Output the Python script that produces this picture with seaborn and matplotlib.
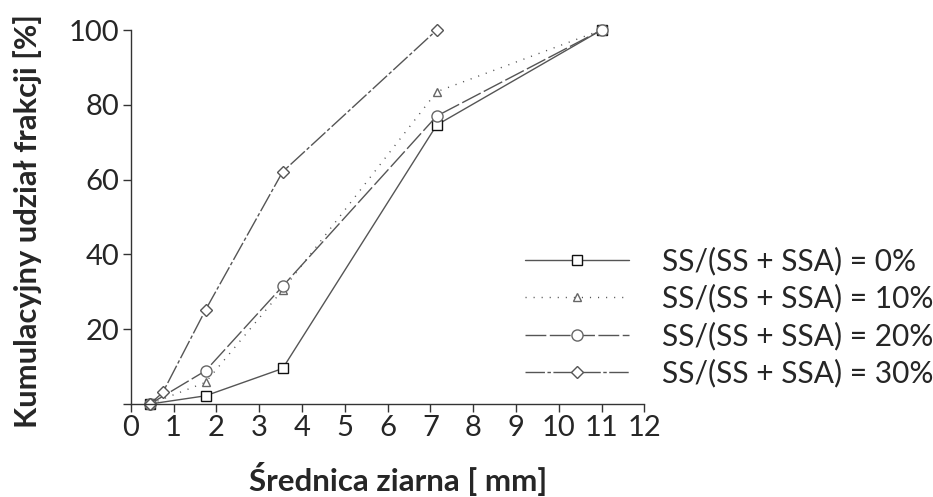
import matplotlib
matplotlib.use("Agg")
import matplotlib.pyplot as plt
import seaborn as sns
import pandas as pd
from matplotlib.lines import Line2D

# Sieve sizes [mm] and cumulative passing [%]
sizes = [0.45, 1.75, 3.55, 7.15, 11.0]
sizes_30 = [0.45, 0.75, 1.75, 3.55, 7.15]
pass_0 = [0.0, 2.2, 9.5, 74.6, 100.0]
pass_10 = [0.0, 5.8, 30.5, 83.5, 100.0]
pass_20 = [0.0, 8.9, 31.5, 77.0, 100.0]
pass_30 = [0.0, 3.1, 25.2, 62.1, 100.0]

labels = ["SS/(SS + SSA) = 0%", "SS/(SS + SSA) = 10%",
          "SS/(SS + SSA) = 20%", "SS/(SS + SSA) = 30%"]
x_ticks = list(range(0, 13))
y_ticks = [0, 20, 40, 60, 80, 100]
y_ticklabels = ["", "20", "40", "60", "80", "100"]

sns.set_style("ticks")
FONT = "Lato"
plt.rcParams["font.family"] = [FONT, "DejaVu Sans"]

fig = plt.figure(figsize=(9.33, 4.97), dpi=100)
ax = fig.add_axes([0.1401, 0.1871, 0.5505, 0.7525])

line_col = "#555555"
styles = [
    dict(linestyle="-", marker="s", markersize=7.5, markeredgecolor="#111111"),
    dict(linestyle=(0, (0.8, 5.0)), marker="^", markersize=6, markeredgecolor="#666666"),
    dict(linestyle=(0, (15, 2.5)), marker="o", markersize=8, markeredgecolor="#666666"),
    dict(linestyle=(0, (14, 1.8, 2.5, 1.8)), marker="D", markersize=6, markeredgecolor="#555555"),
]
series = [(sizes, pass_0), (sizes, pass_10), (sizes, pass_20), (sizes_30, pass_30)]

handles = []
for (xs, ys), st, lab in zip(series, styles, labels):
    df = pd.DataFrame({"x": xs, "y": ys})
    sns.lineplot(data=df, x="x", y="y", ax=ax, color=line_col, linewidth=1.0,
                 markerfacecolor="white", markeredgewidth=1.0,
                 clip_on=False, sort=False, legend=False, **st)
    handles.append(Line2D([], [], color=line_col, linewidth=1.0,
                          markerfacecolor="white", markeredgewidth=1.0, **st))

ax.set_xlim(0, 12)
ax.set_ylim(0, 100)
ax.set_xticks(x_ticks)
ax.set_yticks(y_ticks)
ax.set_yticklabels(y_ticklabels)
ax.tick_params(axis="both", direction="out", length=6, width=1.0,
               color="#333333", labelsize=21, pad=2)
for side in ("left", "bottom"):
    ax.spines[side].set_color("#333333")
    ax.spines[side].set_linewidth(1.0)
sns.despine(ax=ax)

ax.set_xlabel("Średnica ziarna [ mm]", fontsize=22.5, fontweight="bold", va="center")
ax.set_ylabel("Kumulacyjny udział frakcji [%]", fontsize=22.2, fontweight="bold")
ax.xaxis.set_label_coords(0.52, -0.2)
ax.yaxis.set_label_coords(-0.173, 0.488)

leg = fig.legend(handles=handles, labels=labels, loc="center left",
                 bbox_to_anchor=(0.55, 0.362), frameon=False, fontsize=21.5,
                 handlelength=3.48, handletextpad=1.1, labelspacing=0.3,
                 borderaxespad=0)

fig.savefig("out.png", dpi=100)
